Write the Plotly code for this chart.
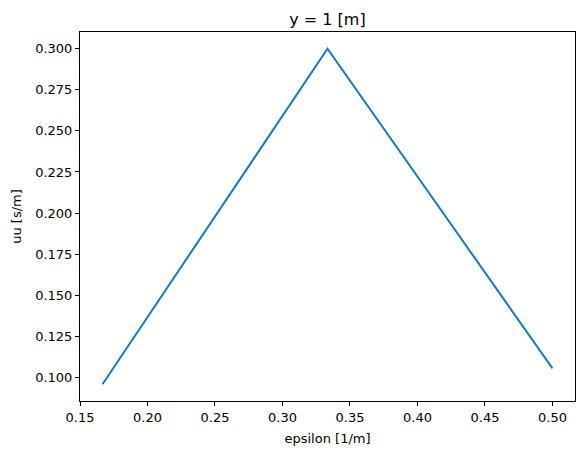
import plotly.graph_objects as go

epsilon = [1/6, 1/3, 1/2]
uu = [0.0958, 0.300, 0.1055]
x_ticks = [0.15, 0.20, 0.25, 0.30, 0.35, 0.40, 0.45, 0.50]
y_ticks = [0.100, 0.125, 0.150, 0.175, 0.200, 0.225, 0.250, 0.275, 0.300]

fig = go.Figure()
fig.add_trace(go.Scatter(x=epsilon, y=uu, mode="lines",
                         line=dict(color="#1f77b4", width=2)))

font = "DejaVu Sans"
# the page body adds an 8px offset; figure sized to fill the rest of the window
W, H = 576, 447
fig.update_layout(
    width=W, height=H,
    margin=dict(l=72, r=9, t=24, b=54, autoexpand=False),
    paper_bgcolor="white", plot_bgcolor="white",
    showlegend=False,
    font=dict(family=font, size=13, color="black"),
    title=dict(text="y = 1 [m]", x=0.5, xref="paper", xanchor="center",
               y=1 - 11/H, yref="container", yanchor="middle",
               font=dict(family=font, size=16, color="black")),
    xaxis=dict(range=[0.15, 0.5167], tickvals=x_ticks, tickformat=".2f",
               automargin=False,
               showgrid=False, zeroline=False, showline=True, linecolor="black",
               linewidth=1, mirror=True, ticks="outside", ticklen=4,
               tickcolor="black", tickfont=dict(size=13),
               title=dict(text="epsilon [1/m]", standoff=10, font=dict(size=13))),
    yaxis=dict(range=[0.0856, 0.3102], tickvals=y_ticks, tickformat=".3f",
               automargin=False,
               showgrid=False, zeroline=False, showline=True, linecolor="black",
               linewidth=1, mirror=True, ticks="outside", ticklen=4,
               tickcolor="black", tickfont=dict(size=13),
               title=dict(text="uu [s/m]", standoff=10, font=dict(size=13))),
)
fig.write_html("out.html")
